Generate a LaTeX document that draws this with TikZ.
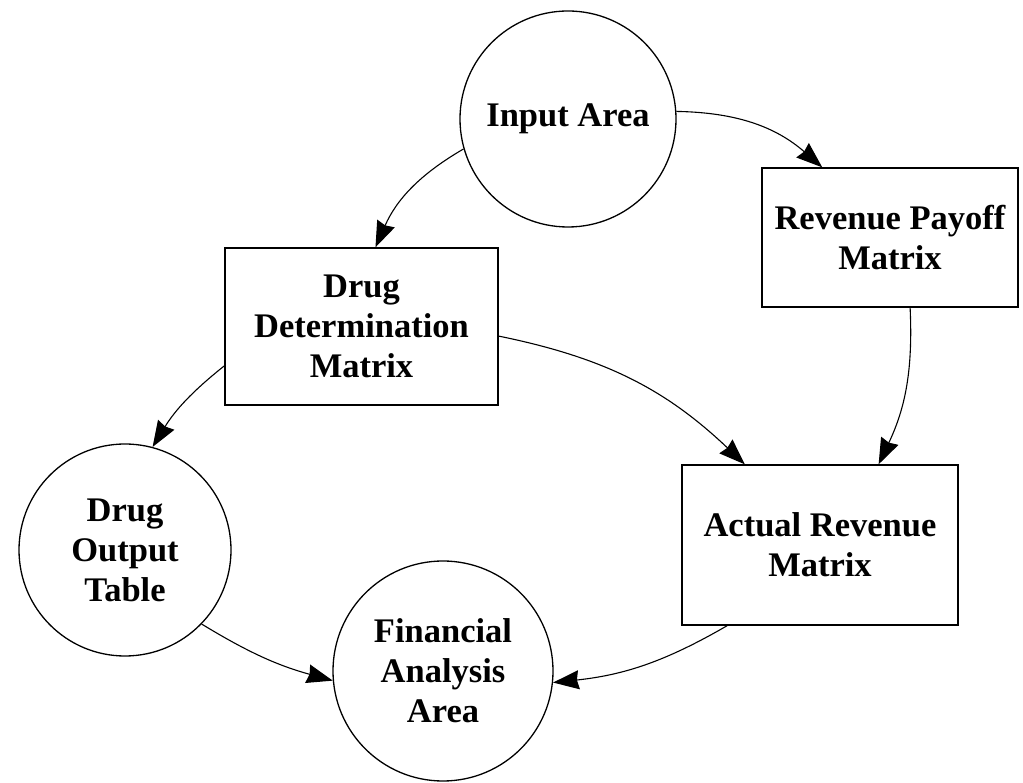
\documentclass[tikz,border=0pt]{standalone}
\usepackage{fontspec}
\setmainfont{Liberation Serif}
\usetikzlibrary{arrows.meta}

\begin{document}
\begin{tikzpicture}[
        x=1pt, y=1pt,
        line width=1.3pt,
        every node/.style={font=\bfseries\fontsize{34.5}{40}\selectfont, align=center, inner sep=0pt},
        area/.style={circle, draw},
        matrixbox/.style={rectangle, draw},
        flow/.style={-{Stealth[length=26pt, width=19pt, inset=2pt]}, line width=1.1pt}
    ]
        \useasboundingbox (0,0) rectangle (1023,782);

        \node[area, minimum size=216pt] (IA) at (568,663) {Input Area};
        \node[matrixbox, minimum width=256pt, minimum height=139pt] (RPM) at (890,544.5) {Revenue Payoff\\Matrix};
        \node[matrixbox, minimum width=273pt, minimum height=157pt] (DDM) at (361.5,455.5) {Drug\\Determination\\Matrix};
        \node[area, minimum size=212pt] (DOT) at (125,232) {Drug\\Output\\Table};
        \node[matrixbox, minimum width=276pt, minimum height=160pt] (ARM) at (820,237) {Actual Revenue\\Matrix};
        \node[area, minimum size=220pt] (FAA) at (443,111) {Financial\\Analysis\\Area};

        \draw[flow] (IA.4) to[bend left=20] (RPM.134);
        \draw[flow] (IA.196) to[bend right=18] (DDM.80);
        \draw[flow] (RPM.-74) to[bend left=14] (ARM.54.5);
        \draw[flow] (DDM.196.6) to[bend right=10] (DOT.75);
        \draw[flow] (DDM.-4.8) to[bend left=16] (ARM.133);
        \draw[flow] (DOT.-44) to[bend right=8] (FAA.185);
        \draw[flow] (ARM.221.6) to[bend left=12] (FAA.-6);
    \end{tikzpicture}
\end{document}
